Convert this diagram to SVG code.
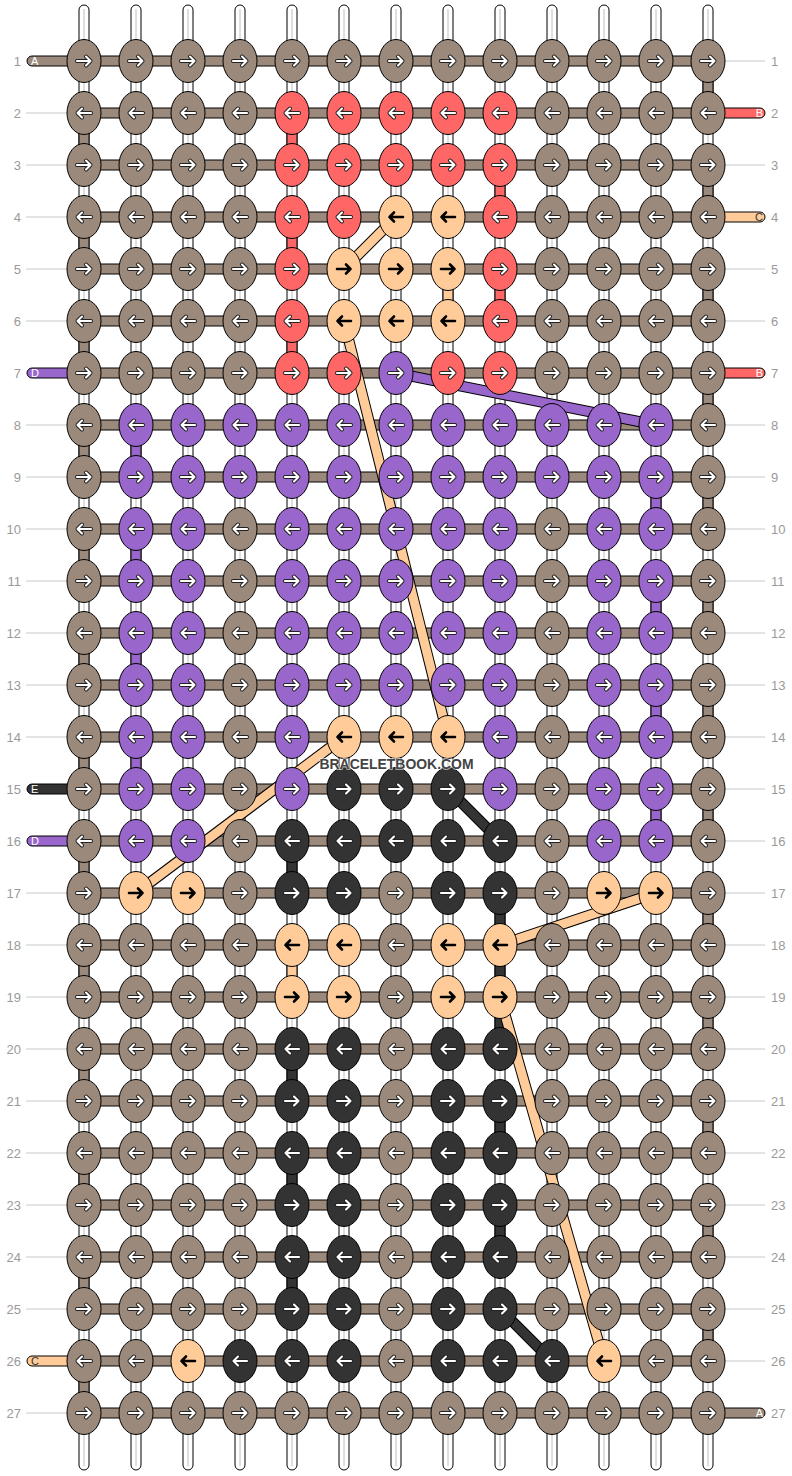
<svg xmlns="http://www.w3.org/2000/svg" xmlns:xlink="http://www.w3.org/1999/xlink" width="792" height="1476" viewBox="0 0 792 1476">
<style>
.bg{fill:#fff}
.gl{stroke:#c8c8c8;stroke-width:1}
.vs{fill:#fff;stroke:#000;stroke-width:1}
.vc{stroke:#bdbdbd;stroke-width:1}
.hb{fill:#9B8A7B;stroke:#000;stroke-width:1}
.sg{stroke:#000;stroke-width:1}
.cA{fill:#9B8A7B}.cB{fill:#FF6666}.cC{fill:#FFCC99}.cD{fill:#9966CC}.cE{fill:#333333}
.dO{stroke:#000;stroke-width:11;fill:none}
.dC{stroke:#FFCC99;stroke-width:9;fill:none}
.dD{stroke:#9966CC;stroke-width:9;fill:none}
.dE{stroke:#333333;stroke-width:9;fill:none}
.ao{fill:none;stroke:#222;stroke-width:4;stroke-linecap:round;stroke-linejoin:round}
.aw{fill:none;stroke:#fff;stroke-width:2.1;stroke-linecap:round;stroke-linejoin:round}
.ab{fill:none;stroke:#000;stroke-width:2.6;stroke-linecap:round;stroke-linejoin:round}
.num{font-family:"Liberation Sans",Arial,sans-serif;font-size:13px;fill:#9a9a9a}
.sl{font-family:"Liberation Sans",Arial,sans-serif;font-size:11px;fill:#fff}
.sd{font-family:"Liberation Sans",Arial,sans-serif;font-size:11px;fill:#333}
.wm{font-family:"Liberation Sans",Arial,sans-serif;font-weight:bold;font-size:15.5px;fill:#444;stroke:#fff;stroke-width:1.6;stroke-opacity:0.7;paint-order:stroke}
</style>
<defs>
<ellipse id="k" rx="17" ry="21.5" stroke="#000" stroke-width="1"/>
<path id="pr" d="M-7,0H6.5M2,-4.5L6.5,0L2,4.5"/>
<path id="pl" d="M7,0H-6.5M-2,-4.5L-6.5,0L-2,4.5"/>
<g id="AR"><use href="#k" class="cA"/><use href="#pr" class="ao"/><use href="#pr" class="aw"/></g>
<g id="AL"><use href="#k" class="cA"/><use href="#pl" class="ao"/><use href="#pl" class="aw"/></g>
<g id="BR"><use href="#k" class="cB"/><use href="#pr" class="ao"/><use href="#pr" class="aw"/></g>
<g id="BL"><use href="#k" class="cB"/><use href="#pl" class="ao"/><use href="#pl" class="aw"/></g>
<g id="DR"><use href="#k" class="cD"/><use href="#pr" class="ao"/><use href="#pr" class="aw"/></g>
<g id="DL"><use href="#k" class="cD"/><use href="#pl" class="ao"/><use href="#pl" class="aw"/></g>
<g id="ER"><use href="#k" class="cE"/><use href="#pr" class="ao"/><use href="#pr" class="aw"/></g>
<g id="EL"><use href="#k" class="cE"/><use href="#pl" class="ao"/><use href="#pl" class="aw"/></g>
<g id="CR"><use href="#k" class="cC"/><use href="#pr" class="ab"/></g>
<g id="CL"><use href="#k" class="cC"/><use href="#pl" class="ab"/></g>
<rect id="vstr" x="-5" y="5" width="10" height="1465" rx="5"/>
<rect id="seg" x="-5" y="0" width="10" height="52"/>
</defs>
<rect class="bg" x="0" y="0" width="792" height="1476"/>
<g id="guides">
<line class="gl" x1="26" y1="113" x2="84" y2="113"/><line class="gl" x1="26" y1="165" x2="84" y2="165"/><line class="gl" x1="26" y1="217" x2="84" y2="217"/><line class="gl" x1="26" y1="269" x2="84" y2="269"/><line class="gl" x1="26" y1="321" x2="84" y2="321"/><line class="gl" x1="26" y1="425" x2="84" y2="425"/><line class="gl" x1="26" y1="477" x2="84" y2="477"/><line class="gl" x1="26" y1="529" x2="84" y2="529"/><line class="gl" x1="26" y1="581" x2="84" y2="581"/><line class="gl" x1="26" y1="633" x2="84" y2="633"/><line class="gl" x1="26" y1="685" x2="84" y2="685"/><line class="gl" x1="26" y1="737" x2="84" y2="737"/><line class="gl" x1="26" y1="893" x2="84" y2="893"/><line class="gl" x1="26" y1="945" x2="84" y2="945"/><line class="gl" x1="26" y1="997" x2="84" y2="997"/><line class="gl" x1="26" y1="1049" x2="84" y2="1049"/><line class="gl" x1="26" y1="1101" x2="84" y2="1101"/><line class="gl" x1="26" y1="1153" x2="84" y2="1153"/><line class="gl" x1="26" y1="1205" x2="84" y2="1205"/><line class="gl" x1="26" y1="1257" x2="84" y2="1257"/><line class="gl" x1="26" y1="1309" x2="84" y2="1309"/><line class="gl" x1="26" y1="1413" x2="84" y2="1413"/>
<line class="gl" x1="708" y1="61" x2="765" y2="61"/><line class="gl" x1="708" y1="165" x2="765" y2="165"/><line class="gl" x1="708" y1="269" x2="765" y2="269"/><line class="gl" x1="708" y1="321" x2="765" y2="321"/><line class="gl" x1="708" y1="425" x2="765" y2="425"/><line class="gl" x1="708" y1="477" x2="765" y2="477"/><line class="gl" x1="708" y1="529" x2="765" y2="529"/><line class="gl" x1="708" y1="581" x2="765" y2="581"/><line class="gl" x1="708" y1="633" x2="765" y2="633"/><line class="gl" x1="708" y1="685" x2="765" y2="685"/><line class="gl" x1="708" y1="737" x2="765" y2="737"/><line class="gl" x1="708" y1="789" x2="765" y2="789"/><line class="gl" x1="708" y1="841" x2="765" y2="841"/><line class="gl" x1="708" y1="893" x2="765" y2="893"/><line class="gl" x1="708" y1="945" x2="765" y2="945"/><line class="gl" x1="708" y1="997" x2="765" y2="997"/><line class="gl" x1="708" y1="1049" x2="765" y2="1049"/><line class="gl" x1="708" y1="1101" x2="765" y2="1101"/><line class="gl" x1="708" y1="1153" x2="765" y2="1153"/><line class="gl" x1="708" y1="1205" x2="765" y2="1205"/><line class="gl" x1="708" y1="1257" x2="765" y2="1257"/><line class="gl" x1="708" y1="1309" x2="765" y2="1309"/><line class="gl" x1="708" y1="1361" x2="765" y2="1361"/>
</g>
<g id="connectors">
<g id="strands">
<use href="#vstr" class="vs" x="84"/><use href="#vstr" class="vs" x="136"/><use href="#vstr" class="vs" x="188"/><use href="#vstr" class="vs" x="240"/><use href="#vstr" class="vs" x="292"/><use href="#vstr" class="vs" x="344"/><use href="#vstr" class="vs" x="396"/><use href="#vstr" class="vs" x="448"/><use href="#vstr" class="vs" x="500"/><use href="#vstr" class="vs" x="552"/><use href="#vstr" class="vs" x="604"/><use href="#vstr" class="vs" x="656"/><use href="#vstr" class="vs" x="708"/>
<line class="vc" x1="84" y1="9" x2="84" y2="1466"/><line class="vc" x1="136" y1="9" x2="136" y2="1466"/><line class="vc" x1="188" y1="9" x2="188" y2="1466"/><line class="vc" x1="240" y1="9" x2="240" y2="1466"/><line class="vc" x1="292" y1="9" x2="292" y2="1466"/><line class="vc" x1="344" y1="9" x2="344" y2="1466"/><line class="vc" x1="396" y1="9" x2="396" y2="1466"/><line class="vc" x1="448" y1="9" x2="448" y2="1466"/><line class="vc" x1="500" y1="9" x2="500" y2="1466"/><line class="vc" x1="552" y1="9" x2="552" y2="1466"/><line class="vc" x1="604" y1="9" x2="604" y2="1466"/><line class="vc" x1="656" y1="9" x2="656" y2="1466"/><line class="vc" x1="708" y1="9" x2="708" y2="1466"/>
</g>
<g id="rows">
<rect class="hb" x="84" y="56" width="624" height="10"/><rect class="hb" x="84" y="108" width="624" height="10"/><rect class="hb" x="84" y="160" width="624" height="10"/><rect class="hb" x="84" y="212" width="624" height="10"/><rect class="hb" x="84" y="264" width="624" height="10"/><rect class="hb" x="84" y="316" width="624" height="10"/><rect class="hb" x="84" y="368" width="624" height="10"/><rect class="hb" x="84" y="420" width="624" height="10"/><rect class="hb" x="84" y="472" width="624" height="10"/><rect class="hb" x="84" y="524" width="624" height="10"/><rect class="hb" x="84" y="576" width="624" height="10"/><rect class="hb" x="84" y="628" width="624" height="10"/><rect class="hb" x="84" y="680" width="624" height="10"/><rect class="hb" x="84" y="732" width="624" height="10"/><rect class="hb" x="84" y="784" width="624" height="10"/><rect class="hb" x="84" y="836" width="624" height="10"/><rect class="hb" x="84" y="888" width="624" height="10"/><rect class="hb" x="84" y="940" width="624" height="10"/><rect class="hb" x="84" y="992" width="624" height="10"/><rect class="hb" x="84" y="1044" width="624" height="10"/><rect class="hb" x="84" y="1096" width="624" height="10"/><rect class="hb" x="84" y="1148" width="624" height="10"/><rect class="hb" x="84" y="1200" width="624" height="10"/><rect class="hb" x="84" y="1252" width="624" height="10"/><rect class="hb" x="84" y="1304" width="624" height="10"/><rect class="hb" x="84" y="1356" width="624" height="10"/><rect class="hb" x="84" y="1408" width="624" height="10"/>
</g>
<g id="stubs">
<path class="sg cA" d="M84,56H32A5,5 0 0 0 32,66H84Z"/>
<path class="sg cD" d="M84,368H32A5,5 0 0 0 32,378H84Z"/>
<path class="sg cE" d="M84,784H32A5,5 0 0 0 32,794H84Z"/>
<path class="sg cD" d="M84,836H32A5,5 0 0 0 32,846H84Z"/>
<path class="sg cC" d="M84,1356H32A5,5 0 0 0 32,1366H84Z"/>
<path class="sg cB" d="M708,108H760A5,5 0 0 1 760,118H708Z"/>
<path class="sg cC" d="M708,212H760A5,5 0 0 1 760,222H708Z"/>
<path class="sg cB" d="M708,368H760A5,5 0 0 1 760,378H708Z"/>
<path class="sg cA" d="M708,1408H760A5,5 0 0 1 760,1418H708Z"/>
</g>
<g id="carries">
<use href="#seg" class="sg cA" x="84" y="113"/><use href="#seg" class="sg cA" x="84" y="217"/><use href="#seg" class="sg cA" x="84" y="321"/><use href="#seg" class="sg cA" x="84" y="425"/><use href="#seg" class="sg cA" x="84" y="529"/><use href="#seg" class="sg cA" x="84" y="633"/><use href="#seg" class="sg cA" x="84" y="737"/><use href="#seg" class="sg cA" x="84" y="841"/><use href="#seg" class="sg cA" x="84" y="945"/><use href="#seg" class="sg cA" x="84" y="1049"/><use href="#seg" class="sg cA" x="84" y="1153"/><use href="#seg" class="sg cA" x="84" y="1257"/><use href="#seg" class="sg cA" x="84" y="1361"/>
<use href="#seg" class="sg cA" x="708" y="61"/><use href="#seg" class="sg cA" x="708" y="165"/><use href="#seg" class="sg cA" x="708" y="269"/><use href="#seg" class="sg cA" x="708" y="373"/><use href="#seg" class="sg cA" x="708" y="477"/><use href="#seg" class="sg cA" x="708" y="581"/><use href="#seg" class="sg cA" x="708" y="685"/><use href="#seg" class="sg cA" x="708" y="789"/><use href="#seg" class="sg cA" x="708" y="893"/><use href="#seg" class="sg cA" x="708" y="997"/><use href="#seg" class="sg cA" x="708" y="1101"/><use href="#seg" class="sg cA" x="708" y="1205"/><use href="#seg" class="sg cA" x="708" y="1309"/>
<use href="#seg" class="sg cB" x="292" y="113"/><use href="#seg" class="sg cB" x="292" y="217"/><use href="#seg" class="sg cB" x="292" y="321"/>
<use href="#seg" class="sg cB" x="500" y="165"/><use href="#seg" class="sg cB" x="500" y="269"/>
<use href="#seg" class="sg cC" x="448" y="269"/>
<use href="#seg" class="sg cD" x="136" y="425"/><use href="#seg" class="sg cD" x="136" y="529"/><use href="#seg" class="sg cD" x="136" y="633"/><use href="#seg" class="sg cD" x="136" y="737"/>
<use href="#seg" class="sg cD" x="656" y="477"/><use href="#seg" class="sg cD" x="656" y="581"/><use href="#seg" class="sg cD" x="656" y="685"/><use href="#seg" class="sg cD" x="656" y="789"/>
<use href="#seg" class="sg cE" x="292" y="841"/><use href="#seg" class="sg cE" x="292" y="1049"/><use href="#seg" class="sg cE" x="292" y="1153"/><use href="#seg" class="sg cE" x="292" y="1257"/>
<use href="#seg" class="sg cC" x="292" y="945"/>
<use href="#seg" class="sg cE" x="500" y="893"/><use href="#seg" class="sg cE" x="500" y="945"/><use href="#seg" class="sg cE" x="500" y="997"/><use href="#seg" class="sg cE" x="500" y="1101"/><use href="#seg" class="sg cE" x="500" y="1205"/>
</g>
<g id="diagonals">
<line class="dO" x1="396" y1="217" x2="344" y2="269"/><line class="dC" x1="396" y1="217" x2="344" y2="269"/>
<line class="dO" x1="344" y1="321" x2="448" y2="737"/><line class="dC" x1="344" y1="321" x2="448" y2="737"/>
<line class="dO" x1="396" y1="373" x2="656" y2="425"/><line class="dD" x1="396" y1="373" x2="656" y2="425"/>
<line class="dO" x1="344" y1="737" x2="136" y2="893"/><line class="dC" x1="344" y1="737" x2="136" y2="893"/>
<line class="dO" x1="448" y1="789" x2="500" y2="841"/><line class="dE" x1="448" y1="789" x2="500" y2="841"/>
<line class="dO" x1="656" y1="893" x2="500" y2="945"/><line class="dC" x1="656" y1="893" x2="500" y2="945"/>
<line class="dO" x1="500" y1="997" x2="604" y2="1361"/><line class="dC" x1="500" y1="997" x2="604" y2="1361"/>
<line class="dO" x1="500" y1="1309" x2="552" y2="1361"/><line class="dE" x1="500" y1="1309" x2="552" y2="1361"/>
</g>
</g>
<g id="knots">
<g id="n1-1"><use href="#AR" x="84" y="61"/></g><g id="n1-2"><use href="#AR" x="136" y="61"/></g><g id="n1-3"><use href="#AR" x="188" y="61"/></g><g id="n1-4"><use href="#AR" x="240" y="61"/></g><g id="n1-5"><use href="#AR" x="292" y="61"/></g><g id="n1-6"><use href="#AR" x="344" y="61"/></g><g id="n1-7"><use href="#AR" x="396" y="61"/></g><g id="n1-8"><use href="#AR" x="448" y="61"/></g><g id="n1-9"><use href="#AR" x="500" y="61"/></g><g id="n1-10"><use href="#AR" x="552" y="61"/></g><g id="n1-11"><use href="#AR" x="604" y="61"/></g><g id="n1-12"><use href="#AR" x="656" y="61"/></g><g id="n1-13"><use href="#AR" x="708" y="61"/></g>
<g id="n2-1"><use href="#AL" x="84" y="113"/></g><g id="n2-2"><use href="#AL" x="136" y="113"/></g><g id="n2-3"><use href="#AL" x="188" y="113"/></g><g id="n2-4"><use href="#AL" x="240" y="113"/></g><g id="n2-5"><use href="#BL" x="292" y="113"/></g><g id="n2-6"><use href="#BL" x="344" y="113"/></g><g id="n2-7"><use href="#BL" x="396" y="113"/></g><g id="n2-8"><use href="#BL" x="448" y="113"/></g><g id="n2-9"><use href="#BL" x="500" y="113"/></g><g id="n2-10"><use href="#AL" x="552" y="113"/></g><g id="n2-11"><use href="#AL" x="604" y="113"/></g><g id="n2-12"><use href="#AL" x="656" y="113"/></g><g id="n2-13"><use href="#AL" x="708" y="113"/></g>
<g id="n3-1"><use href="#AR" x="84" y="165"/></g><g id="n3-2"><use href="#AR" x="136" y="165"/></g><g id="n3-3"><use href="#AR" x="188" y="165"/></g><g id="n3-4"><use href="#AR" x="240" y="165"/></g><g id="n3-5"><use href="#BR" x="292" y="165"/></g><g id="n3-6"><use href="#BR" x="344" y="165"/></g><g id="n3-7"><use href="#BR" x="396" y="165"/></g><g id="n3-8"><use href="#BR" x="448" y="165"/></g><g id="n3-9"><use href="#BR" x="500" y="165"/></g><g id="n3-10"><use href="#AR" x="552" y="165"/></g><g id="n3-11"><use href="#AR" x="604" y="165"/></g><g id="n3-12"><use href="#AR" x="656" y="165"/></g><g id="n3-13"><use href="#AR" x="708" y="165"/></g>
<g id="n4-1"><use href="#AL" x="84" y="217"/></g><g id="n4-2"><use href="#AL" x="136" y="217"/></g><g id="n4-3"><use href="#AL" x="188" y="217"/></g><g id="n4-4"><use href="#AL" x="240" y="217"/></g><g id="n4-5"><use href="#BL" x="292" y="217"/></g><g id="n4-6"><use href="#BL" x="344" y="217"/></g><g id="n4-7"><use href="#CL" x="396" y="217"/></g><g id="n4-8"><use href="#CL" x="448" y="217"/></g><g id="n4-9"><use href="#BL" x="500" y="217"/></g><g id="n4-10"><use href="#AL" x="552" y="217"/></g><g id="n4-11"><use href="#AL" x="604" y="217"/></g><g id="n4-12"><use href="#AL" x="656" y="217"/></g><g id="n4-13"><use href="#AL" x="708" y="217"/></g>
<g id="n5-1"><use href="#AR" x="84" y="269"/></g><g id="n5-2"><use href="#AR" x="136" y="269"/></g><g id="n5-3"><use href="#AR" x="188" y="269"/></g><g id="n5-4"><use href="#AR" x="240" y="269"/></g><g id="n5-5"><use href="#BR" x="292" y="269"/></g><g id="n5-6"><use href="#CR" x="344" y="269"/></g><g id="n5-7"><use href="#CR" x="396" y="269"/></g><g id="n5-8"><use href="#CR" x="448" y="269"/></g><g id="n5-9"><use href="#BR" x="500" y="269"/></g><g id="n5-10"><use href="#AR" x="552" y="269"/></g><g id="n5-11"><use href="#AR" x="604" y="269"/></g><g id="n5-12"><use href="#AR" x="656" y="269"/></g><g id="n5-13"><use href="#AR" x="708" y="269"/></g>
<g id="n6-1"><use href="#AL" x="84" y="321"/></g><g id="n6-2"><use href="#AL" x="136" y="321"/></g><g id="n6-3"><use href="#AL" x="188" y="321"/></g><g id="n6-4"><use href="#AL" x="240" y="321"/></g><g id="n6-5"><use href="#BL" x="292" y="321"/></g><g id="n6-6"><use href="#CL" x="344" y="321"/></g><g id="n6-7"><use href="#CL" x="396" y="321"/></g><g id="n6-8"><use href="#CL" x="448" y="321"/></g><g id="n6-9"><use href="#BL" x="500" y="321"/></g><g id="n6-10"><use href="#AL" x="552" y="321"/></g><g id="n6-11"><use href="#AL" x="604" y="321"/></g><g id="n6-12"><use href="#AL" x="656" y="321"/></g><g id="n6-13"><use href="#AL" x="708" y="321"/></g>
<g id="n7-1"><use href="#AR" x="84" y="373"/></g><g id="n7-2"><use href="#AR" x="136" y="373"/></g><g id="n7-3"><use href="#AR" x="188" y="373"/></g><g id="n7-4"><use href="#AR" x="240" y="373"/></g><g id="n7-5"><use href="#BR" x="292" y="373"/></g><g id="n7-6"><use href="#BR" x="344" y="373"/></g><g id="n7-7"><use href="#DR" x="396" y="373"/></g><g id="n7-8"><use href="#BR" x="448" y="373"/></g><g id="n7-9"><use href="#BR" x="500" y="373"/></g><g id="n7-10"><use href="#AR" x="552" y="373"/></g><g id="n7-11"><use href="#AR" x="604" y="373"/></g><g id="n7-12"><use href="#AR" x="656" y="373"/></g><g id="n7-13"><use href="#AR" x="708" y="373"/></g>
<g id="n8-1"><use href="#AL" x="84" y="425"/></g><g id="n8-2"><use href="#DL" x="136" y="425"/></g><g id="n8-3"><use href="#DL" x="188" y="425"/></g><g id="n8-4"><use href="#DL" x="240" y="425"/></g><g id="n8-5"><use href="#DL" x="292" y="425"/></g><g id="n8-6"><use href="#DL" x="344" y="425"/></g><g id="n8-7"><use href="#DL" x="396" y="425"/></g><g id="n8-8"><use href="#DL" x="448" y="425"/></g><g id="n8-9"><use href="#DL" x="500" y="425"/></g><g id="n8-10"><use href="#DL" x="552" y="425"/></g><g id="n8-11"><use href="#DL" x="604" y="425"/></g><g id="n8-12"><use href="#DL" x="656" y="425"/></g><g id="n8-13"><use href="#AL" x="708" y="425"/></g>
<g id="n9-1"><use href="#AR" x="84" y="477"/></g><g id="n9-2"><use href="#DR" x="136" y="477"/></g><g id="n9-3"><use href="#DR" x="188" y="477"/></g><g id="n9-4"><use href="#DR" x="240" y="477"/></g><g id="n9-5"><use href="#DR" x="292" y="477"/></g><g id="n9-6"><use href="#DR" x="344" y="477"/></g><g id="n9-7"><use href="#DR" x="396" y="477"/></g><g id="n9-8"><use href="#DR" x="448" y="477"/></g><g id="n9-9"><use href="#DR" x="500" y="477"/></g><g id="n9-10"><use href="#DR" x="552" y="477"/></g><g id="n9-11"><use href="#DR" x="604" y="477"/></g><g id="n9-12"><use href="#DR" x="656" y="477"/></g><g id="n9-13"><use href="#AR" x="708" y="477"/></g>
<g id="n10-1"><use href="#AL" x="84" y="529"/></g><g id="n10-2"><use href="#DL" x="136" y="529"/></g><g id="n10-3"><use href="#DL" x="188" y="529"/></g><g id="n10-4"><use href="#AL" x="240" y="529"/></g><g id="n10-5"><use href="#DL" x="292" y="529"/></g><g id="n10-6"><use href="#DL" x="344" y="529"/></g><g id="n10-7"><use href="#DL" x="396" y="529"/></g><g id="n10-8"><use href="#DL" x="448" y="529"/></g><g id="n10-9"><use href="#DL" x="500" y="529"/></g><g id="n10-10"><use href="#AL" x="552" y="529"/></g><g id="n10-11"><use href="#DL" x="604" y="529"/></g><g id="n10-12"><use href="#DL" x="656" y="529"/></g><g id="n10-13"><use href="#AL" x="708" y="529"/></g>
<g id="n11-1"><use href="#AR" x="84" y="581"/></g><g id="n11-2"><use href="#DR" x="136" y="581"/></g><g id="n11-3"><use href="#DR" x="188" y="581"/></g><g id="n11-4"><use href="#AR" x="240" y="581"/></g><g id="n11-5"><use href="#DR" x="292" y="581"/></g><g id="n11-6"><use href="#DR" x="344" y="581"/></g><g id="n11-7"><use href="#DR" x="396" y="581"/></g><g id="n11-8"><use href="#DR" x="448" y="581"/></g><g id="n11-9"><use href="#DR" x="500" y="581"/></g><g id="n11-10"><use href="#AR" x="552" y="581"/></g><g id="n11-11"><use href="#DR" x="604" y="581"/></g><g id="n11-12"><use href="#DR" x="656" y="581"/></g><g id="n11-13"><use href="#AR" x="708" y="581"/></g>
<g id="n12-1"><use href="#AL" x="84" y="633"/></g><g id="n12-2"><use href="#DL" x="136" y="633"/></g><g id="n12-3"><use href="#DL" x="188" y="633"/></g><g id="n12-4"><use href="#AL" x="240" y="633"/></g><g id="n12-5"><use href="#DL" x="292" y="633"/></g><g id="n12-6"><use href="#DL" x="344" y="633"/></g><g id="n12-7"><use href="#DL" x="396" y="633"/></g><g id="n12-8"><use href="#DL" x="448" y="633"/></g><g id="n12-9"><use href="#DL" x="500" y="633"/></g><g id="n12-10"><use href="#AL" x="552" y="633"/></g><g id="n12-11"><use href="#DL" x="604" y="633"/></g><g id="n12-12"><use href="#DL" x="656" y="633"/></g><g id="n12-13"><use href="#AL" x="708" y="633"/></g>
<g id="n13-1"><use href="#AR" x="84" y="685"/></g><g id="n13-2"><use href="#DR" x="136" y="685"/></g><g id="n13-3"><use href="#DR" x="188" y="685"/></g><g id="n13-4"><use href="#AR" x="240" y="685"/></g><g id="n13-5"><use href="#DR" x="292" y="685"/></g><g id="n13-6"><use href="#DR" x="344" y="685"/></g><g id="n13-7"><use href="#DR" x="396" y="685"/></g><g id="n13-8"><use href="#DR" x="448" y="685"/></g><g id="n13-9"><use href="#DR" x="500" y="685"/></g><g id="n13-10"><use href="#AR" x="552" y="685"/></g><g id="n13-11"><use href="#DR" x="604" y="685"/></g><g id="n13-12"><use href="#DR" x="656" y="685"/></g><g id="n13-13"><use href="#AR" x="708" y="685"/></g>
<g id="n14-1"><use href="#AL" x="84" y="737"/></g><g id="n14-2"><use href="#DL" x="136" y="737"/></g><g id="n14-3"><use href="#DL" x="188" y="737"/></g><g id="n14-4"><use href="#AL" x="240" y="737"/></g><g id="n14-5"><use href="#DL" x="292" y="737"/></g><g id="n14-6"><use href="#CL" x="344" y="737"/></g><g id="n14-7"><use href="#CL" x="396" y="737"/></g><g id="n14-8"><use href="#CL" x="448" y="737"/></g><g id="n14-9"><use href="#DL" x="500" y="737"/></g><g id="n14-10"><use href="#AL" x="552" y="737"/></g><g id="n14-11"><use href="#DL" x="604" y="737"/></g><g id="n14-12"><use href="#DL" x="656" y="737"/></g><g id="n14-13"><use href="#AL" x="708" y="737"/></g>
<g id="n15-1"><use href="#AR" x="84" y="789"/></g><g id="n15-2"><use href="#DR" x="136" y="789"/></g><g id="n15-3"><use href="#DR" x="188" y="789"/></g><g id="n15-4"><use href="#AR" x="240" y="789"/></g><g id="n15-5"><use href="#DR" x="292" y="789"/></g><g id="n15-6"><use href="#ER" x="344" y="789"/></g><g id="n15-7"><use href="#ER" x="396" y="789"/></g><g id="n15-8"><use href="#ER" x="448" y="789"/></g><g id="n15-9"><use href="#DR" x="500" y="789"/></g><g id="n15-10"><use href="#AR" x="552" y="789"/></g><g id="n15-11"><use href="#DR" x="604" y="789"/></g><g id="n15-12"><use href="#DR" x="656" y="789"/></g><g id="n15-13"><use href="#AR" x="708" y="789"/></g>
<g id="n16-1"><use href="#AL" x="84" y="841"/></g><g id="n16-2"><use href="#DL" x="136" y="841"/></g><g id="n16-3"><use href="#DL" x="188" y="841"/></g><g id="n16-4"><use href="#AL" x="240" y="841"/></g><g id="n16-5"><use href="#EL" x="292" y="841"/></g><g id="n16-6"><use href="#EL" x="344" y="841"/></g><g id="n16-7"><use href="#EL" x="396" y="841"/></g><g id="n16-8"><use href="#EL" x="448" y="841"/></g><g id="n16-9"><use href="#EL" x="500" y="841"/></g><g id="n16-10"><use href="#AL" x="552" y="841"/></g><g id="n16-11"><use href="#DL" x="604" y="841"/></g><g id="n16-12"><use href="#DL" x="656" y="841"/></g><g id="n16-13"><use href="#AL" x="708" y="841"/></g>
<g id="n17-1"><use href="#AR" x="84" y="893"/></g><g id="n17-2"><use href="#CR" x="136" y="893"/></g><g id="n17-3"><use href="#CR" x="188" y="893"/></g><g id="n17-4"><use href="#AR" x="240" y="893"/></g><g id="n17-5"><use href="#ER" x="292" y="893"/></g><g id="n17-6"><use href="#ER" x="344" y="893"/></g><g id="n17-7"><use href="#AR" x="396" y="893"/></g><g id="n17-8"><use href="#ER" x="448" y="893"/></g><g id="n17-9"><use href="#ER" x="500" y="893"/></g><g id="n17-10"><use href="#AR" x="552" y="893"/></g><g id="n17-11"><use href="#CR" x="604" y="893"/></g><g id="n17-12"><use href="#CR" x="656" y="893"/></g><g id="n17-13"><use href="#AR" x="708" y="893"/></g>
<g id="n18-1"><use href="#AL" x="84" y="945"/></g><g id="n18-2"><use href="#AL" x="136" y="945"/></g><g id="n18-3"><use href="#AL" x="188" y="945"/></g><g id="n18-4"><use href="#AL" x="240" y="945"/></g><g id="n18-5"><use href="#CL" x="292" y="945"/></g><g id="n18-6"><use href="#CL" x="344" y="945"/></g><g id="n18-7"><use href="#AL" x="396" y="945"/></g><g id="n18-8"><use href="#CL" x="448" y="945"/></g><g id="n18-9"><use href="#CL" x="500" y="945"/></g><g id="n18-10"><use href="#AL" x="552" y="945"/></g><g id="n18-11"><use href="#AL" x="604" y="945"/></g><g id="n18-12"><use href="#AL" x="656" y="945"/></g><g id="n18-13"><use href="#AL" x="708" y="945"/></g>
<g id="n19-1"><use href="#AR" x="84" y="997"/></g><g id="n19-2"><use href="#AR" x="136" y="997"/></g><g id="n19-3"><use href="#AR" x="188" y="997"/></g><g id="n19-4"><use href="#AR" x="240" y="997"/></g><g id="n19-5"><use href="#CR" x="292" y="997"/></g><g id="n19-6"><use href="#CR" x="344" y="997"/></g><g id="n19-7"><use href="#AR" x="396" y="997"/></g><g id="n19-8"><use href="#CR" x="448" y="997"/></g><g id="n19-9"><use href="#CR" x="500" y="997"/></g><g id="n19-10"><use href="#AR" x="552" y="997"/></g><g id="n19-11"><use href="#AR" x="604" y="997"/></g><g id="n19-12"><use href="#AR" x="656" y="997"/></g><g id="n19-13"><use href="#AR" x="708" y="997"/></g>
<g id="n20-1"><use href="#AL" x="84" y="1049"/></g><g id="n20-2"><use href="#AL" x="136" y="1049"/></g><g id="n20-3"><use href="#AL" x="188" y="1049"/></g><g id="n20-4"><use href="#AL" x="240" y="1049"/></g><g id="n20-5"><use href="#EL" x="292" y="1049"/></g><g id="n20-6"><use href="#EL" x="344" y="1049"/></g><g id="n20-7"><use href="#AL" x="396" y="1049"/></g><g id="n20-8"><use href="#EL" x="448" y="1049"/></g><g id="n20-9"><use href="#EL" x="500" y="1049"/></g><g id="n20-10"><use href="#AL" x="552" y="1049"/></g><g id="n20-11"><use href="#AL" x="604" y="1049"/></g><g id="n20-12"><use href="#AL" x="656" y="1049"/></g><g id="n20-13"><use href="#AL" x="708" y="1049"/></g>
<g id="n21-1"><use href="#AR" x="84" y="1101"/></g><g id="n21-2"><use href="#AR" x="136" y="1101"/></g><g id="n21-3"><use href="#AR" x="188" y="1101"/></g><g id="n21-4"><use href="#AR" x="240" y="1101"/></g><g id="n21-5"><use href="#ER" x="292" y="1101"/></g><g id="n21-6"><use href="#ER" x="344" y="1101"/></g><g id="n21-7"><use href="#AR" x="396" y="1101"/></g><g id="n21-8"><use href="#ER" x="448" y="1101"/></g><g id="n21-9"><use href="#ER" x="500" y="1101"/></g><g id="n21-10"><use href="#AR" x="552" y="1101"/></g><g id="n21-11"><use href="#AR" x="604" y="1101"/></g><g id="n21-12"><use href="#AR" x="656" y="1101"/></g><g id="n21-13"><use href="#AR" x="708" y="1101"/></g>
<g id="n22-1"><use href="#AL" x="84" y="1153"/></g><g id="n22-2"><use href="#AL" x="136" y="1153"/></g><g id="n22-3"><use href="#AL" x="188" y="1153"/></g><g id="n22-4"><use href="#AL" x="240" y="1153"/></g><g id="n22-5"><use href="#EL" x="292" y="1153"/></g><g id="n22-6"><use href="#EL" x="344" y="1153"/></g><g id="n22-7"><use href="#AL" x="396" y="1153"/></g><g id="n22-8"><use href="#EL" x="448" y="1153"/></g><g id="n22-9"><use href="#EL" x="500" y="1153"/></g><g id="n22-10"><use href="#AL" x="552" y="1153"/></g><g id="n22-11"><use href="#AL" x="604" y="1153"/></g><g id="n22-12"><use href="#AL" x="656" y="1153"/></g><g id="n22-13"><use href="#AL" x="708" y="1153"/></g>
<g id="n23-1"><use href="#AR" x="84" y="1205"/></g><g id="n23-2"><use href="#AR" x="136" y="1205"/></g><g id="n23-3"><use href="#AR" x="188" y="1205"/></g><g id="n23-4"><use href="#AR" x="240" y="1205"/></g><g id="n23-5"><use href="#ER" x="292" y="1205"/></g><g id="n23-6"><use href="#ER" x="344" y="1205"/></g><g id="n23-7"><use href="#AR" x="396" y="1205"/></g><g id="n23-8"><use href="#ER" x="448" y="1205"/></g><g id="n23-9"><use href="#ER" x="500" y="1205"/></g><g id="n23-10"><use href="#AR" x="552" y="1205"/></g><g id="n23-11"><use href="#AR" x="604" y="1205"/></g><g id="n23-12"><use href="#AR" x="656" y="1205"/></g><g id="n23-13"><use href="#AR" x="708" y="1205"/></g>
<g id="n24-1"><use href="#AL" x="84" y="1257"/></g><g id="n24-2"><use href="#AL" x="136" y="1257"/></g><g id="n24-3"><use href="#AL" x="188" y="1257"/></g><g id="n24-4"><use href="#AL" x="240" y="1257"/></g><g id="n24-5"><use href="#EL" x="292" y="1257"/></g><g id="n24-6"><use href="#EL" x="344" y="1257"/></g><g id="n24-7"><use href="#AL" x="396" y="1257"/></g><g id="n24-8"><use href="#EL" x="448" y="1257"/></g><g id="n24-9"><use href="#EL" x="500" y="1257"/></g><g id="n24-10"><use href="#AL" x="552" y="1257"/></g><g id="n24-11"><use href="#AL" x="604" y="1257"/></g><g id="n24-12"><use href="#AL" x="656" y="1257"/></g><g id="n24-13"><use href="#AL" x="708" y="1257"/></g>
<g id="n25-1"><use href="#AR" x="84" y="1309"/></g><g id="n25-2"><use href="#AR" x="136" y="1309"/></g><g id="n25-3"><use href="#AR" x="188" y="1309"/></g><g id="n25-4"><use href="#AR" x="240" y="1309"/></g><g id="n25-5"><use href="#ER" x="292" y="1309"/></g><g id="n25-6"><use href="#ER" x="344" y="1309"/></g><g id="n25-7"><use href="#AR" x="396" y="1309"/></g><g id="n25-8"><use href="#ER" x="448" y="1309"/></g><g id="n25-9"><use href="#ER" x="500" y="1309"/></g><g id="n25-10"><use href="#AR" x="552" y="1309"/></g><g id="n25-11"><use href="#AR" x="604" y="1309"/></g><g id="n25-12"><use href="#AR" x="656" y="1309"/></g><g id="n25-13"><use href="#AR" x="708" y="1309"/></g>
<g id="n26-1"><use href="#AL" x="84" y="1361"/></g><g id="n26-2"><use href="#AL" x="136" y="1361"/></g><g id="n26-3"><use href="#CL" x="188" y="1361"/></g><g id="n26-4"><use href="#EL" x="240" y="1361"/></g><g id="n26-5"><use href="#EL" x="292" y="1361"/></g><g id="n26-6"><use href="#EL" x="344" y="1361"/></g><g id="n26-7"><use href="#AL" x="396" y="1361"/></g><g id="n26-8"><use href="#EL" x="448" y="1361"/></g><g id="n26-9"><use href="#EL" x="500" y="1361"/></g><g id="n26-10"><use href="#EL" x="552" y="1361"/></g><g id="n26-11"><use href="#CL" x="604" y="1361"/></g><g id="n26-12"><use href="#AL" x="656" y="1361"/></g><g id="n26-13"><use href="#AL" x="708" y="1361"/></g>
<g id="n27-1"><use href="#AR" x="84" y="1413"/></g><g id="n27-2"><use href="#AR" x="136" y="1413"/></g><g id="n27-3"><use href="#AR" x="188" y="1413"/></g><g id="n27-4"><use href="#AR" x="240" y="1413"/></g><g id="n27-5"><use href="#AR" x="292" y="1413"/></g><g id="n27-6"><use href="#AR" x="344" y="1413"/></g><g id="n27-7"><use href="#AR" x="396" y="1413"/></g><g id="n27-8"><use href="#AR" x="448" y="1413"/></g><g id="n27-9"><use href="#AR" x="500" y="1413"/></g><g id="n27-10"><use href="#AR" x="552" y="1413"/></g><g id="n27-11"><use href="#AR" x="604" y="1413"/></g><g id="n27-12"><use href="#AR" x="656" y="1413"/></g><g id="n27-13"><use href="#AR" x="708" y="1413"/></g>
</g>
<g id="labels">
<g text-anchor="end">
<text class="num" x="21" y="66">1</text><text class="num" x="21" y="118">2</text><text class="num" x="21" y="170">3</text><text class="num" x="21" y="222">4</text><text class="num" x="21" y="274">5</text><text class="num" x="21" y="326">6</text><text class="num" x="21" y="378">7</text><text class="num" x="21" y="430">8</text><text class="num" x="21" y="482">9</text><text class="num" x="21" y="534">10</text><text class="num" x="21" y="586">11</text><text class="num" x="21" y="638">12</text><text class="num" x="21" y="690">13</text><text class="num" x="21" y="742">14</text><text class="num" x="21" y="794">15</text><text class="num" x="21" y="846">16</text><text class="num" x="21" y="898">17</text><text class="num" x="21" y="950">18</text><text class="num" x="21" y="1002">19</text><text class="num" x="21" y="1054">20</text><text class="num" x="21" y="1106">21</text><text class="num" x="21" y="1158">22</text><text class="num" x="21" y="1210">23</text><text class="num" x="21" y="1262">24</text><text class="num" x="21" y="1314">25</text><text class="num" x="21" y="1366">26</text><text class="num" x="21" y="1418">27</text>
</g>
<g text-anchor="start">
<text class="num" x="771" y="66">1</text><text class="num" x="771" y="118">2</text><text class="num" x="771" y="170">3</text><text class="num" x="771" y="222">4</text><text class="num" x="771" y="274">5</text><text class="num" x="771" y="326">6</text><text class="num" x="771" y="378">7</text><text class="num" x="771" y="430">8</text><text class="num" x="771" y="482">9</text><text class="num" x="771" y="534">10</text><text class="num" x="771" y="586">11</text><text class="num" x="771" y="638">12</text><text class="num" x="771" y="690">13</text><text class="num" x="771" y="742">14</text><text class="num" x="771" y="794">15</text><text class="num" x="771" y="846">16</text><text class="num" x="771" y="898">17</text><text class="num" x="771" y="950">18</text><text class="num" x="771" y="1002">19</text><text class="num" x="771" y="1054">20</text><text class="num" x="771" y="1106">21</text><text class="num" x="771" y="1158">22</text><text class="num" x="771" y="1210">23</text><text class="num" x="771" y="1262">24</text><text class="num" x="771" y="1314">25</text><text class="num" x="771" y="1366">26</text><text class="num" x="771" y="1418">27</text>
</g>
<text class="sl" x="31" y="65">A</text>
<text class="sl" x="31" y="377">D</text>
<text class="sl" x="31" y="793">E</text>
<text class="sl" x="31" y="845">D</text>
<text class="sd" x="31" y="1365">C</text>
<text class="sl" x="763" y="117" text-anchor="end">B</text>
<text class="sd" x="763" y="221" text-anchor="end">C</text>
<text class="sl" x="763" y="377" text-anchor="end">B</text>
<text class="sl" x="763" y="1417" text-anchor="end">A</text>
<text class="wm" x="396.5" y="769" text-anchor="middle" textLength="154" lengthAdjust="spacingAndGlyphs">BRACELETBOOK.COM</text>
</g>
</svg>
